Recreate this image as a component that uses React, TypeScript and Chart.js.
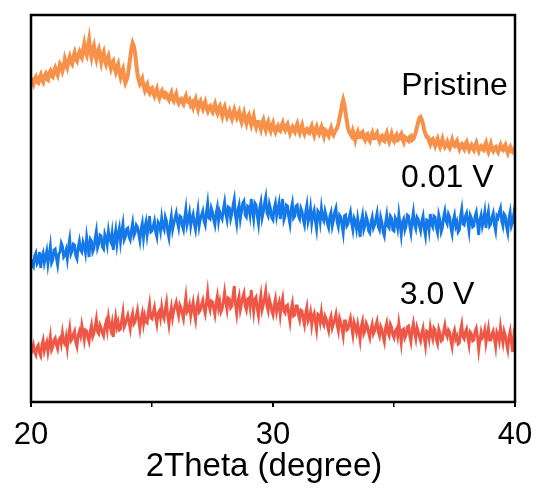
import React, { useEffect, useRef } from "react";
import { Chart, registerables } from "chart.js";

Chart.register(...registerables);

// 2Theta sampling: 20.00 .. 40.00 in 0.05 degree steps
const ANGLE_START = 20;
const ANGLE_STEP = 0.05;

const PRISTINE: number[] = [
  324, 321, 318, 323, 325, 320, 319, 324, 327, 322, 320, 326, 328, 323, 322, 329, 331, 326, 325, 331,
  334, 330, 327, 333, 338, 336, 331, 335, 343, 339, 335, 341, 345, 340, 338, 345, 349, 343, 341, 347,
  350, 346, 344, 352, 358, 350, 347, 355, 362, 351, 345, 352, 356, 348, 343, 350, 353, 346, 340, 347,
  350, 342, 338, 343, 346, 339, 334, 339, 341, 334, 330, 335, 338, 330, 325, 330, 333, 324, 319, 322,
  327, 335, 344, 354, 359, 356, 349, 338, 328, 322, 318, 320, 323, 316, 312, 316, 318, 311, 309, 313,
  314, 309, 306, 310, 313, 307, 304, 309, 311, 306, 305, 309, 308, 304, 302, 306, 309, 303, 301, 305,
  308, 302, 299, 302, 303, 300, 298, 303, 306, 301, 300, 302, 297, 299, 295, 300, 303, 297, 293, 299,
  301, 296, 293, 297, 300, 294, 291, 295, 296, 292, 290, 295, 298, 292, 289, 294, 296, 290, 286, 292,
  295, 289, 285, 288, 291, 286, 283, 288, 292, 287, 284, 287, 290, 284, 280, 285, 289, 283, 279, 285,
  287, 281, 277, 282, 286, 279, 275, 280, 280, 277, 273, 279, 282, 276, 272, 277, 280, 274, 271, 276,
  279, 273, 270, 274, 276, 272, 271, 276, 279, 274, 272, 276, 278, 273, 269, 273, 275, 272, 270, 275,
  278, 272, 269, 274, 277, 271, 268, 272, 273, 270, 269, 273, 276, 271, 267, 272, 275, 270, 268, 272,
  275, 270, 266, 272, 271, 268, 266, 271, 274, 269, 267, 270, 272, 274, 278, 284, 290, 297, 302, 297,
  289, 281, 274, 270, 268, 266, 271, 267, 262, 267, 270, 265, 265, 269, 270, 264, 262, 267, 268, 263,
  261, 266, 269, 264, 264, 267, 269, 264, 261, 265, 266, 262, 261, 266, 269, 263, 260, 264, 268, 263,
  261, 265, 267, 262, 263, 266, 268, 263, 260, 265, 264, 262, 261, 265, 266, 262, 263, 266, 270, 275,
  280, 284, 285, 282, 278, 272, 268, 265, 265, 261, 258, 262, 263, 259, 256, 260, 263, 258, 255, 259,
  263, 258, 255, 257, 260, 256, 254, 258, 262, 257, 256, 259, 261, 256, 253, 257, 258, 255, 253, 258,
  260, 255, 252, 255, 257, 254, 252, 256, 259, 254, 251, 255, 256, 253, 252, 256, 259, 253, 250, 254,
  258, 253, 251, 254, 255, 252, 250, 254, 257, 253, 252, 255, 257, 252, 249, 253, 255, 251, 250, 253,
  255,
];

const V001: number[] = [
  143, 137, 135, 146, 149, 138, 140, 150, 134, 145, 149, 139, 145, 151, 138, 147, 156, 139, 142, 152,
  153, 144, 137, 148, 150, 159, 156, 145, 147, 152, 143, 155, 163, 148, 151, 158, 157, 146, 143, 155,
  161, 152, 150, 160, 156, 149, 165, 156, 145, 163, 161, 150, 153, 164, 171, 154, 158, 167, 166, 155,
  153, 168, 164, 157, 171, 163, 160, 169, 152, 164, 172, 158, 168, 174, 160, 170, 178, 162, 165, 173,
  174, 165, 162, 172, 179, 166, 169, 177, 175, 168, 161, 173, 179, 164, 174, 180, 167, 176, 186, 170,
  171, 176, 181, 170, 165, 180, 178, 171, 184, 175, 172, 185, 181, 170, 164, 178, 186, 172, 178, 184,
  189, 180, 174, 186, 185, 176, 172, 184, 193, 177, 182, 189, 176, 184, 188, 178, 172, 183, 192, 176,
  183, 187, 191, 181, 177, 190, 199, 184, 183, 194, 190, 182, 177, 189, 195, 181, 190, 186, 183, 193,
  200, 188, 182, 195, 194, 183, 188, 197, 203, 186, 178, 192, 197, 183, 191, 199, 201, 187, 185, 196,
  195, 187, 203, 192, 183, 199, 197, 186, 178, 194, 200, 184, 190, 199, 205, 189, 186, 198, 193, 184,
  182, 194, 199, 186, 193, 199, 183, 194, 203, 182, 186, 197, 196, 185, 178, 193, 199, 184, 186, 196,
  197, 186, 183, 194, 191, 182, 177, 190, 197, 180, 185, 194, 179, 188, 192, 181, 173, 191, 189, 180,
  194, 184, 181, 191, 186, 178, 174, 186, 190, 176, 182, 190, 194, 180, 175, 187, 185, 177, 169, 186,
  187, 176, 178, 185, 190, 179, 172, 184, 181, 173, 184, 176, 165, 181, 187, 172, 176, 186, 182, 171,
  169, 180, 185, 174, 177, 183, 189, 175, 172, 185, 180, 170, 166, 179, 187, 176, 174, 186, 184, 172,
  171, 184, 181, 174, 188, 178, 167, 180, 183, 172, 176, 187, 186, 176, 169, 182, 190, 177, 173, 185,
  183, 176, 171, 181, 186, 173, 166, 182, 181, 172, 188, 178, 175, 186, 185, 174, 169, 187, 182, 170,
  174, 185, 191, 181, 178, 188, 185, 174, 168, 182, 187, 176, 180, 170, 172, 186, 193, 178, 177, 186,
  189, 180, 171, 187, 184, 175, 176, 186, 190, 179, 167, 182, 187, 176, 182, 190, 174, 185, 191, 176,
  178, 185, 189, 177, 171, 186, 184, 190, 194, 181, 176, 188, 186, 175, 169, 184, 190, 176, 180, 188,
  178,
];

const V30: number[] = [
  48, 52, 57, 50, 47, 55, 57, 49, 46, 57, 62, 51, 56, 60, 50, 58, 66, 52, 55, 62,
  64, 57, 53, 62, 64, 58, 69, 60, 58, 65, 54, 66, 74, 61, 63, 68, 71, 59, 55, 67,
  71, 66, 77, 70, 62, 72, 71, 64, 60, 71, 77, 65, 68, 76, 83, 70, 68, 77, 74, 69,
  66, 75, 80, 72, 85, 77, 72, 79, 65, 76, 85, 75, 80, 72, 73, 82, 90, 75, 78, 83,
  87, 80, 73, 84, 89, 78, 80, 86, 92, 82, 73, 83, 89, 78, 86, 80, 79, 90, 98, 84,
  83, 90, 95, 85, 78, 89, 91, 84, 95, 86, 83, 93, 100, 86, 77, 88, 95, 84, 91, 96,
  100, 92, 86, 97, 94, 88, 83, 95, 105, 90, 92, 97, 86, 94, 100, 89, 82, 96, 102, 90,
  92, 98, 102, 93, 88, 99, 110, 97, 92, 101, 100, 93, 87, 99, 106, 94, 100, 90, 93, 101,
  110, 99, 92, 104, 103, 94, 96, 107, 116, 97, 88, 101, 106, 92, 98, 105, 109, 96, 92, 103,
  104, 95, 112, 101, 90, 103, 105, 93, 86, 99, 107, 92, 97, 104, 111, 96, 91, 103, 98, 91,
  87, 97, 103, 90, 96, 100, 87, 98, 104, 91, 89, 96, 97, 88, 80, 93, 99, 86, 87, 96,
  96, 87, 82, 92, 91, 83, 77, 89, 95, 81, 84, 90, 77, 86, 89, 80, 72, 88, 87, 80,
  90, 80, 77, 86, 83, 76, 71, 82, 86, 74, 78, 83, 88, 77, 71, 84, 80, 73, 66, 81,
  81, 72, 73, 79, 84, 75, 67, 80, 76, 70, 78, 71, 62, 76, 81, 68, 71, 79, 76, 69,
  64, 73, 78, 68, 71, 77, 81, 70, 66, 76, 73, 65, 60, 74, 79, 69, 66, 78, 75, 67,
  64, 71, 73, 66, 79, 70, 59, 72, 73, 64, 67, 75, 76, 66, 60, 73, 79, 69, 63, 75,
  71, 65, 61, 69, 74, 64, 56, 71, 70, 63, 75, 68, 63, 74, 72, 62, 58, 73, 69, 61,
  62, 71, 77, 68, 65, 72, 70, 61, 55, 68, 72, 63, 66, 58, 59, 72, 78, 65, 63, 70,
  73, 64, 57, 70, 68, 61, 62, 71, 74, 65, 52, 62, 70, 64, 66, 72, 59, 67, 74, 62,
  62, 68, 71, 63, 55, 70, 67, 61, 75, 66, 59, 71, 67, 58, 52, 65, 71, 60, 50, 66,
  60,
];

const SERIES_NAMES = ["Pristine", "0.01 V", "3.0 V"];
const SERIES_COLORS = ["#F7914A", "#1478E8", "#EE5645"];
const LABEL_X = [37.5, 37.2, 36.78];
const LABEL_Y = [316, 224, 107];
const X_TICKS = [20, 30, 40];
const X_TITLE = "2Theta (degree)";

const toPoints = (vals: number[]) =>
  vals.map((v, i) => ({ x: +(ANGLE_START + i * ANGLE_STEP).toFixed(2), y: v }));

const FONT = "'Liberation Sans', Arial, sans-serif";

const framePlugin = {
  id: "frameAndLabels",
  afterDatasetsDraw(chart: any) {
    const { ctx, chartArea, scales } = chart;
    ctx.save();
    ctx.strokeStyle = "#000";
    ctx.lineWidth = 2.5;
    ctx.strokeRect(chartArea.left, chartArea.top, chartArea.right - chartArea.left, chartArea.bottom - chartArea.top);
    ctx.fillStyle = "#000";
    ctx.font = `32px ${FONT}`;
    ctx.textAlign = "center";
    ctx.textBaseline = "middle";
    SERIES_NAMES.forEach((name, i) => {
      ctx.fillText(name, scales.x.getPixelForValue(LABEL_X[i]), scales.y.getPixelForValue(LABEL_Y[i]));
    });
    // axis title
    ctx.font = `33px ${FONT}`;
    ctx.fillText(X_TITLE, (chartArea.left + chartArea.right) / 2 - 9, chartArea.bottom + 65);
    ctx.restore();
  },
};

export default function App() {
  const ref = useRef<HTMLCanvasElement | null>(null);
  useEffect(() => {
    if (!ref.current) return;
    const datasets = [PRISTINE, V001, V30].map((vals, i) => ({
      label: SERIES_NAMES[i],
      data: toPoints(vals),
      borderColor: SERIES_COLORS[i],
      backgroundColor: SERIES_COLORS[i],
      borderWidth: i === 0 ? 4 : 2.8,
      pointRadius: 0,
      tension: 0,
      fill: false,
    }));
    const chart = new Chart(ref.current, {
      type: "line",
      data: { datasets },
      plugins: [framePlugin],
      options: {
        animation: false,
        responsive: false,
        maintainAspectRatio: false,
        layout: { padding: { left: 31, right: 21, top: 15, bottom: 0 } },
        plugins: { legend: { display: false }, tooltip: { enabled: false } },
        scales: {
          x: {
            type: "linear",
            min: 20,
            max: 40,
            afterFit: (scale: any) => {
              scale.height = 95;
              scale.paddingLeft = 0;
              scale.paddingRight = 0;
            },
            border: { display: false },
            grid: {
              drawOnChartArea: false,
              drawTicks: true,
              tickLength: 5,
              color: "#000",
              lineWidth: (c: any) => (X_TICKS.includes(c.tick?.value) ? 2 : 1.5),
            },
            ticks: {
              stepSize: 5,
              autoSkip: false,
              maxRotation: 0,
              color: "#000",
              padding: 10,
              font: { size: 31, family: FONT },
              callback: (v: any) => (X_TICKS.includes(Number(v)) ? String(v) : ""),
            },
          },
          y: {
            display: false,
            min: 0,
            max: 387,
          },
        },
      },
    });
    return () => chart.destroy();
  }, []);
  return (
    <div style={{ position: "fixed", left: 0, top: 0, width: 536, height: 497, background: "#fff" }}>
      <canvas ref={ref} width={536} height={497} style={{ width: 536, height: 497 }} />
    </div>
  );
}
